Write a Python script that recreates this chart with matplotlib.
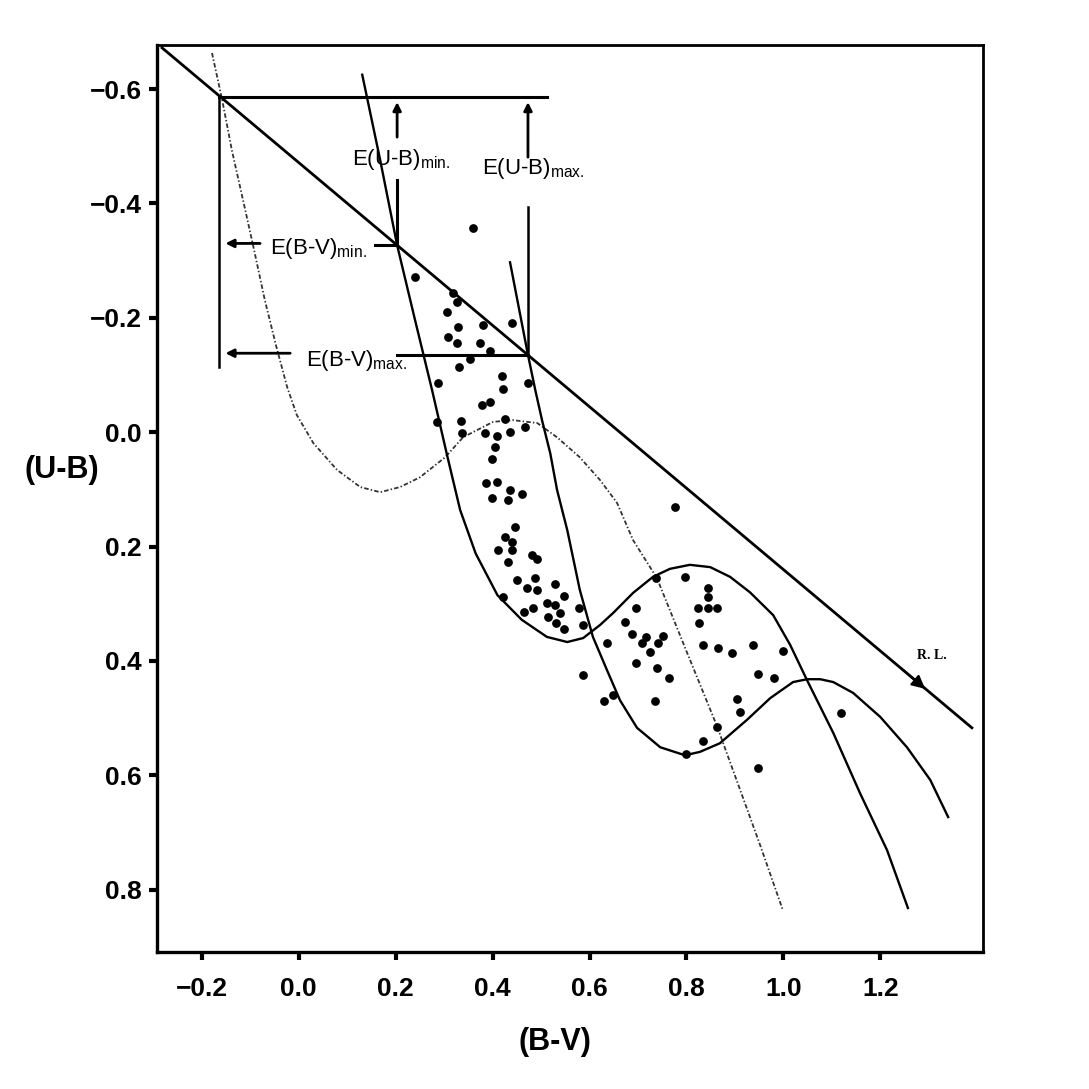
import numpy as np
import matplotlib
matplotlib.use('Agg')
import matplotlib.pyplot as plt

plt.rcParams['font.family'] = ['Liberation Sans', 'DejaVu Sans']
plt.rcParams['mathtext.fontset'] = 'custom'
plt.rcParams['mathtext.rm'] = 'Liberation Sans'
plt.rcParams['axes.unicode_minus'] = True

# intrinsic ZAMS (dotted)
bv_zams = [-0.179, -0.158, -0.138, -0.115, -0.092, -0.070, -0.047, -0.024, -0.004, 0.030,
           0.079, 0.127, 0.168, 0.209, 0.250, 0.302, 0.339, 0.401, 0.442, 0.492,
           0.533, 0.580, 0.622, 0.657, 0.690, 0.739, 0.801, 0.863, 0.911, 0.952, 0.999]
ub_zams = [-0.663, -0.581, -0.493, -0.406, -0.318, -0.231, -0.152, -0.079, -0.030, 0.019,
           0.066, 0.096, 0.105, 0.096, 0.079, 0.044, 0.009, -0.018, -0.021, -0.016,
           0.009, 0.044, 0.084, 0.124, 0.189, 0.255, 0.385, 0.514, 0.626, 0.722, 0.836]

# ZAMS shifted by E(B-V)min
bv_min = [0.131, 0.168, 0.203, 0.240, 0.275, 0.306, 0.333, 0.365, 0.410, 0.460,
          0.512, 0.554, 0.587, 0.622, 0.649, 0.690, 0.731, 0.766, 0.807, 0.849,
          0.890, 0.931, 0.979, 1.014, 1.049, 1.103, 1.158, 1.214, 1.257]
ub_min = [-0.625, -0.476, -0.327, -0.196, -0.074, 0.040, 0.136, 0.212, 0.285, 0.328,
          0.358, 0.367, 0.360, 0.337, 0.316, 0.281, 0.253, 0.239, 0.232, 0.236,
          0.253, 0.280, 0.320, 0.372, 0.434, 0.526, 0.631, 0.731, 0.832]

# ZAMS shifted by E(B-V)max
bv_max = [0.436, 0.473, 0.488, 0.502, 0.519, 0.533, 0.554, 0.580, 0.607, 0.636,
          0.663, 0.698, 0.746, 0.797, 0.828, 0.869, 0.925, 0.973, 1.020, 1.049,
          1.076, 1.103, 1.144, 1.200, 1.255, 1.303, 1.340]
ub_max = [-0.297, -0.135, -0.074, -0.021, 0.037, 0.101, 0.171, 0.276, 0.358, 0.416,
          0.469, 0.517, 0.551, 0.565, 0.559, 0.544, 0.503, 0.465, 0.437, 0.432,
          0.432, 0.437, 0.456, 0.498, 0.551, 0.608, 0.673]

# observed stars
bv_stars = [0.360, 0.240, 0.318, 0.327, 0.306, 0.380, 0.440, 0.329, 0.308, 0.327,
            0.374, 0.395, 0.354, 0.331, 0.420, 0.287, 0.422, 0.473, 0.378, 0.395,
            0.285, 0.335, 0.337, 0.426, 0.384, 0.409, 0.436, 0.467, 0.405, 0.399,
            0.387, 0.409, 0.436, 0.461, 0.399, 0.432, 0.446, 0.426, 0.440, 0.411,
            0.440, 0.432, 0.481, 0.492, 0.450, 0.488, 0.471, 0.492, 0.529, 0.547,
            0.422, 0.512, 0.529, 0.578, 0.484, 0.465, 0.539, 0.514, 0.531, 0.587,
            0.547, 0.777, 0.797, 0.737, 0.696, 0.673, 0.688, 0.636, 0.717, 0.708,
            0.752, 0.741, 0.725, 0.696, 0.739, 0.764, 0.587, 0.649, 0.630, 0.735,
            0.845, 0.845, 0.824, 0.845, 0.863, 0.826, 0.834, 0.865, 0.894, 0.937,
            0.948, 0.981, 0.905, 0.911, 0.863, 0.834, 0.799, 0.948, 0.999, 1.119]
ub_stars = [-0.357, -0.271, -0.243, -0.228, -0.210, -0.187, -0.191, -0.184, -0.166, -0.156,
            -0.156, -0.142, -0.128, -0.114, -0.098, -0.086, -0.075, -0.086, -0.047, -0.053,
            -0.018, -0.019, 0.002, -0.023, 0.002, 0.007, 0.000, -0.009, 0.026, 0.047,
            0.089, 0.087, 0.101, 0.108, 0.115, 0.119, 0.166, 0.183, 0.192, 0.206,
            0.206, 0.227, 0.215, 0.222, 0.259, 0.255, 0.273, 0.276, 0.266, 0.287,
            0.288, 0.299, 0.302, 0.308, 0.308, 0.315, 0.316, 0.323, 0.334, 0.337,
            0.344, 0.131, 0.253, 0.255, 0.308, 0.332, 0.353, 0.369, 0.358, 0.369,
            0.357, 0.369, 0.385, 0.404, 0.413, 0.430, 0.425, 0.460, 0.470, 0.470,
            0.273, 0.288, 0.308, 0.308, 0.308, 0.334, 0.372, 0.378, 0.386, 0.372,
            0.423, 0.430, 0.467, 0.490, 0.516, 0.540, 0.563, 0.587, 0.383, 0.491]

# reddening line end points
rl_bv = [-0.282, 1.389]
rl_ub = [-0.672, 0.517]

# colour excess construction values
bv_zero = -0.164       # intrinsic point on the reddening line
ub_zero = -0.586
bv_cut_min, ub_cut_min = 0.203, -0.327
bv_cut_max, ub_cut_max = 0.473, -0.135

xticks = [-0.2, 0.0, 0.2, 0.4, 0.6, 0.8, 1.0, 1.2]
yticks = [-0.6, -0.4, -0.2, 0.0, 0.2, 0.4, 0.6, 0.8]

fig = plt.figure(figsize=(10.89, 10.89), dpi=100)
ax = fig.add_axes([0.1442, 0.1258, 0.7585, 0.8329])
ax.set_xlim(-0.2924, 1.412)
ax.set_ylim(0.909, -0.677)

# curves
ax.plot(bv_zams, ub_zams, color='#333333', lw=1.3, ls=(0, (2.5, 1.2, 0.8, 1.2)))
ax.plot(bv_min, ub_min, color='black', lw=1.7)
ax.plot(bv_max, ub_max, color='black', lw=1.7)

# reddening line + arrow
ax.plot(rl_bv, rl_ub, color='black', lw=2.0)
ax.annotate('', xy=(1.297, 0.452), xytext=(1.24, 0.411),
            arrowprops=dict(arrowstyle='-|>', color='black', lw=1.5, mutation_scale=20))
ax.text(1.307, 0.39, 'R. L.', fontsize=10, family='Liberation Serif',
        fontweight='bold', ha='center', va='center')

# stars
ax.plot(bv_stars, ub_stars, 'o', color='black', ms=6.3, mec='none')

# frame of construction lines
ax.plot([bv_zero, 0.513], [ub_zero, ub_zero], color='black', lw=2.2)
ax.plot([bv_zero, bv_zero], [ub_zero, -0.114], color='black', lw=1.8)

arrow_kw = dict(arrowstyle='-|>', color='black', lw=2.0, mutation_scale=12)
lab_kw = dict(fontsize=16, ha='left', va='baseline')

# E(B-V) min
ax.annotate('', xy=(-0.157, -0.33), xytext=(-0.074, -0.33), arrowprops=arrow_kw)
ax.text(-0.060, -0.312, r'E(B-V)$_{\mathrm{min.}}$', **lab_kw)
ax.plot([0.158, bv_cut_min], [ub_cut_min, ub_cut_min], color='black', lw=2.2)

# E(B-V) max
ax.annotate('', xy=(-0.157, -0.138), xytext=(-0.012, -0.138), arrowprops=arrow_kw)
ax.text(0.015, -0.115, r'E(B-V)$_{\mathrm{max.}}$', **lab_kw)
ax.plot([bv_cut_min, bv_cut_max], [ub_cut_max, ub_cut_max], color='black', lw=2.2)

# E(U-B) min
ax.annotate('', xy=(bv_cut_min, -0.582), xytext=(bv_cut_min, -0.511), arrowprops=arrow_kw)
ax.text(0.110, -0.467, r'E(U-B)$_{\mathrm{min.}}$', **lab_kw)
ax.plot([bv_cut_min, bv_cut_min], [-0.441, ub_cut_min], color='black', lw=2.2)

# E(U-B) max
ax.annotate('', xy=(bv_cut_max, -0.582), xytext=(bv_cut_max, -0.476), arrowprops=arrow_kw)
ax.text(0.378, -0.451, r'E(U-B)$_{\mathrm{max.}}$', **lab_kw)
ax.plot([bv_cut_max, bv_cut_max], [-0.393, ub_cut_max], color='black', lw=1.8)

# axes styling
ax.set_xticks(xticks)
ax.set_yticks(yticks)
ax.set_xticklabels([f'{v:.1f}'.replace('-', '\u2212') for v in xticks])
ax.set_yticklabels([f'{v:.1f}'.replace('-', '\u2212') for v in yticks])
ax.tick_params(axis='both', direction='out', length=6, width=3, labelsize=19)
ax.tick_params(axis='x', pad=12)
ax.tick_params(axis='y', pad=5)
for lab in ax.get_xticklabels() + ax.get_yticklabels():
    lab.set_fontweight('bold')
ax.spines['left'].set_linewidth(2.4)
ax.spines['bottom'].set_linewidth(2.4)
ax.spines['top'].set_linewidth(2.0)
ax.spines['right'].set_linewidth(2.0)

fig.text(0.057, 0.568, '(U-B)', fontsize=22, fontweight='bold', ha='center', va='center')
fig.text(0.51, 0.043, '(B-V)', fontsize=22, fontweight='bold', ha='center', va='center')

plt.savefig('out.png', dpi=100)
